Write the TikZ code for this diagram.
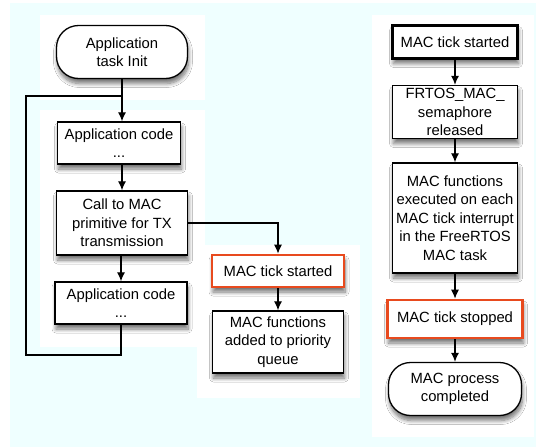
\documentclass[tikz,border=0pt]{standalone}
\usepackage{fontspec}
\setmainfont{Liberation Sans}
\usetikzlibrary{shadows.blur,arrows.meta}
\definecolor{tickred}{HTML}{E84A1E}
\definecolor{pagecyan}{HTML}{EFFFFF}

\begin{document}
\begin{tikzpicture}[>={Latex[length=9pt,width=8pt]},x=1pt,y=-1pt,line width=1.2pt,
  font=\fontsize{14.8}{18.5}\selectfont,
  box/.style={draw, fill=white, align=center, inner sep=0pt, line width=1.3pt,
    blur shadow={shadow xshift=1pt, shadow yshift=-5pt, shadow blur radius=4pt,
      shadow blur steps=8, shadow opacity=55}},
  term/.style={box, rounded corners=22pt},
  tickbox/.style={box, draw=tickred, line width=2.6pt},
  startbox/.style={box, line width=2.6pt}]
  \useasboundingbox (0,0) rectangle (538,447);

  % Pages
  \fill[pagecyan] (10,3) rectangle (536,447);
  \fill[white] (40,15) rectangle (205,100);
  \fill[white] (40,110) rectangle (205,347);
  \fill[white] (197,245) rectangle (360,398);
  \fill[white] (372,15) rectangle (534,437);

  % Application task
  \node[term, minimum width=131, minimum height=53] (init) at (122,52) {Application\\task Init};
  \node[box, minimum width=123, minimum height=42] (app1) at (119,143) {Application code\\...};
  \node[box, minimum width=131, minimum height=64] (call) at (122,223) {Call to MAC\\primitive for TX\\transmission};
  \node[box, minimum width=132, minimum height=42] (app2) at (121,303) {Application code\\...};

  % MAC request
  \node[tickbox, minimum width=132, minimum height=32] (tick1) at (278,271) {MAC tick started};
  \node[box, minimum width=131, minimum height=62] (addq) at (278,342) {MAC functions\\added to priority\\queue};

  % FreeRTOS MAC task
  \node[startbox, minimum width=125, minimum height=33] (tick2) at (455,42) {MAC tick started};
  \node[box, minimum width=125, minimum height=53] (sem) at (455,112) {FRTOS\_MAC\_\\semaphore\\released};
  \node[box, minimum width=125, minimum height=110] (exec) at (455,218) {MAC functions\\executed on each\\MAC tick interrupt\\in the FreeRTOS\\MAC task};
  \node[tickbox, minimum width=135, minimum height=38] (tick3) at (455,319) {MAC tick stopped};
  \node[term, minimum width=133, minimum height=53] (done) at (455,389) {MAC process\\completed};

  % Flow
  \coordinate (jn) at (122,96);
  \coordinate (lp) at (26,355);
  \draw (app2.south) |- (lp) |- (jn);
  \draw[->] (init) -- (jn) -- (jn |- app1.north);
  \draw[->] (app1.south -| jn) -- (call);
  \draw[->] (call.south -| app2) -- (app2);
  \draw[->] (call.east) -| (tick1.north);
  \draw[->] (tick1) -- (addq);

  \draw[->] (tick2) -- (sem);
  \draw[->] (sem) -- (exec);
  \draw[->] (exec) -- (tick3);
  \draw[->] (tick3) -- (done);
\end{tikzpicture}
\end{document}
